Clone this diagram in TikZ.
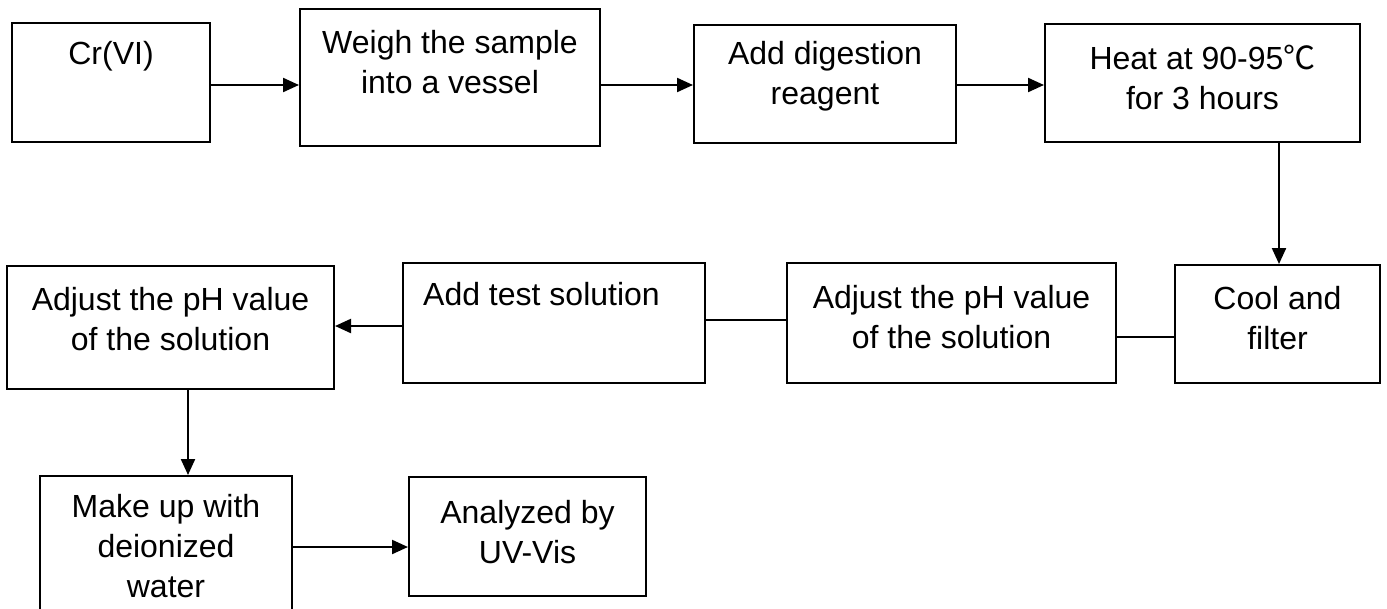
\documentclass[tikz,border=0pt]{standalone}
\usepackage{fontspec}
\setmainfont{Liberation Sans}
\newfontfamily\cjk{Noto Sans CJK SC}
\usetikzlibrary{arrows.meta}
\begin{document}
\begin{tikzpicture}[x=1pt,y=-1pt,
  box/.style={draw,line width=2pt,inner sep=0pt},
  lbl/.style={font=\fontsize{32}{40}\selectfont,align=center,inner sep=0pt},
  arr/.style={line width=2.2pt,-{Triangle[length=16pt,width=14pt]}},
  ln/.style={line width=2.2pt}]
\useasboundingbox (0,0) rectangle (1387,608);
% boxes
\node[box,minimum width=198pt,minimum height=119pt] (cr)    at (111,82.5) {};
\node[box,minimum width=300pt,minimum height=137pt] (weigh) at (450,77.5) {};
\node[box,minimum width=262pt,minimum height=118pt] (dig)   at (825,84) {};
\node[box,minimum width=315pt,minimum height=118pt] (heat)  at (1202.5,83) {};
\node[box,minimum width=205pt,minimum height=118pt] (cool)  at (1277.5,324) {};
\node[box,minimum width=329pt,minimum height=120pt] (adjr)  at (951.5,323) {};
\node[box,minimum width=302pt,minimum height=120pt] (test)  at (554,323) {};
\node[box,minimum width=327pt,minimum height=123pt] (adjl)  at (170.5,327.5) {};
\node[box,minimum width=252pt,minimum height=139pt] (make)  at (166,545.5) {};
\node[box,minimum width=237pt,minimum height=119pt] (ana)   at (527.5,536.5) {};
% labels
\node[lbl] (tcr)    at (111,56) {Cr(VI)};
\node[lbl] (tweigh) at (450,62) {Weigh the sample\\into a vessel};
\node[lbl] (tdig)   at (825,76) {Add digestion\\reagent};
\node[lbl] (theat)  at (1202.5,77) {Heat at 90-95{\cjk ℃}\\for 3 hours};
\node[lbl] (tcool)  at (1277.5,318) {Cool and\\filter};
\node[lbl] (tadjr)  at (951.5,317) {Adjust the pH value\\of the solution};
\node[lbl,anchor=west] (ttest) at (423,294) {Add test solution};
\node[lbl] (tadjl)  at (170.5,319) {Adjust the pH value\\of the solution};
\node[lbl] (tmake)  at (166,546) {Make up with\\deionized\\water};
\node[lbl] (tana)   at (527.5,532) {Analyzed by\\UV-Vis};
% connectors
\draw[arr] (cr.east |- 0,85) -- (weigh.west |- 0,85);
\draw[arr] (weigh.east |- 0,85) -- (dig.west |- 0,85);
\draw[arr] (dig.east |- 0,85) -- (heat.west |- 0,85);
\draw[arr] (heat.south -| 1279,0) -- (cool.north -| 1279,0);
\draw[ln] (cool.west |- 0,337) -- (adjr.east |- 0,337);
\draw[ln] (adjr.west |- 0,320) -- (test.east |- 0,320);
\draw[arr] (test.west |- 0,326) -- (adjl.east |- 0,326);
\draw[arr] (adjl.south -| 188,0) -- (make.north -| 188,0);
\draw[arr] (make.east |- 0,547) -- (ana.west |- 0,547);
\end{tikzpicture}
\end{document}
